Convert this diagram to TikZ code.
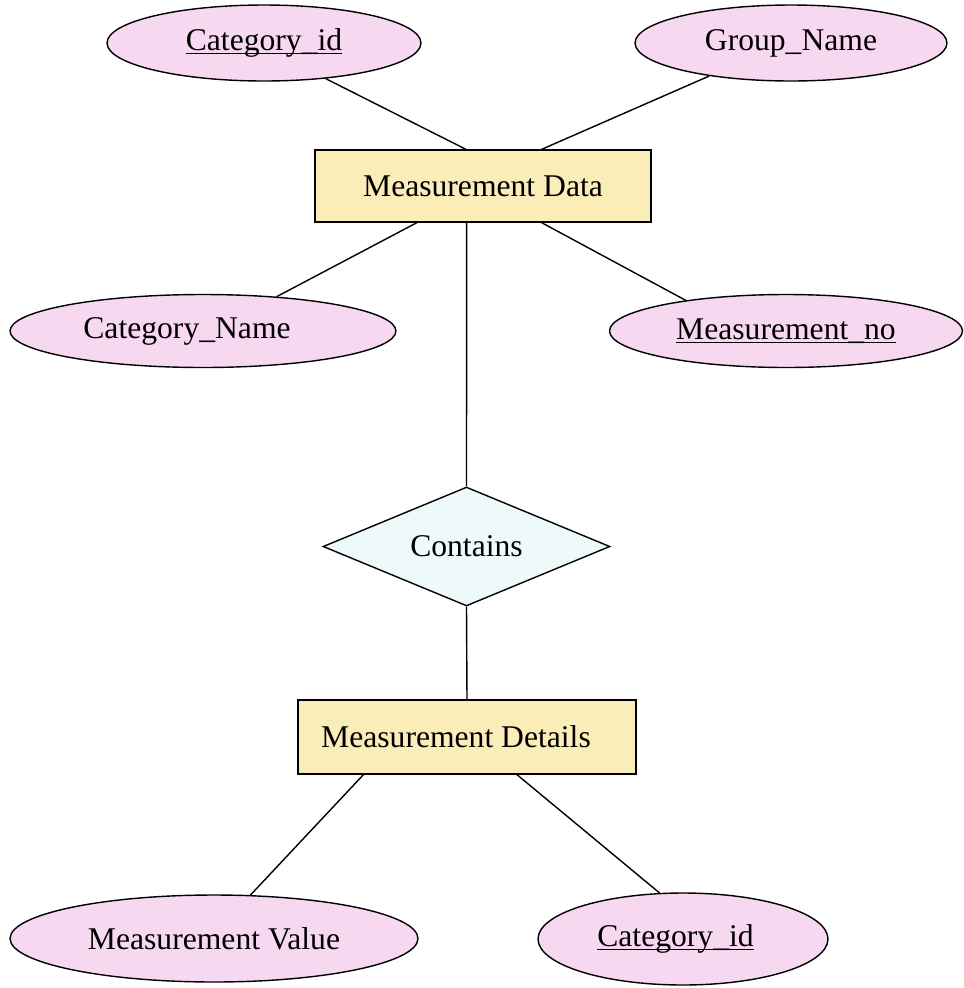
\documentclass[tikz,border=0pt]{standalone}
\usepackage{fontspec}
\setmainfont{Liberation Serif}
\usepackage{tikz}
\usepackage{xcolor}
\usetikzlibrary{positioning, shapes.geometric}
\definecolor{attrfill}{HTML}{F6D8F1}
\definecolor{entfill}{HTML}{FBEDB8}
\definecolor{relfill}{HTML}{EEF9F9}
% key attribute: underline sitting at the underscore level
\newcommand{\keyattr}[1]{\setbox0\hbox{#1}\rlap{\rule[-2pt]{\wd0}{0.7pt}}\box0}
% pushes a label off centre to the left
\newcommand{\padr}[1]{\rule{#1}{0pt}}

\begin{document}
\begin{tikzpicture}[x=0.02cm, y=-0.02cm, line width=0.8pt,
    font=\fontsize{18}{22}\selectfont,
    attr/.style={ellipse, draw, fill=attrfill, inner sep=0pt},
    entity/.style={rectangle, draw, fill=entfill, inner sep=0pt},
    relation/.style={diamond, draw, fill=relfill, inner sep=0pt, aspect=2.4}]
  \useasboundingbox (0,0) rectangle (964,988);

  % Measurement Data and its attributes
  \node[entity, minimum width=6.72cm, minimum height=1.44cm] (mdata) at (483,186) {Measurement Data};
  \node[attr, minimum width=6.28cm, minimum height=1.52cm] (catid) at (264,43) {\keyattr{Category\_id}};
  \node[attr, minimum width=6.24cm, minimum height=1.52cm] (grpname) at (791,43) {Group\_Name};
  \node[attr, minimum width=7.72cm, minimum height=1.46cm] (catname) at (203,331) {Category\_Name\padr{0.64cm}};
  \node[attr, minimum width=7.06cm, minimum height=1.46cm] (measno) at (786,331) {\keyattr{Measurement\_no}};

  % Relationship
  \node[relation, minimum width=5.74cm, minimum height=2.38cm] (contains) at (466.5,546.5) {Contains};

  % Measurement Details and its attributes
  \node[entity, minimum width=6.76cm, minimum height=1.48cm] (mdetails) at (467,737) {Measurement Details\padr{0.44cm}};
  \node[attr, minimum width=8.16cm, minimum height=1.74cm] (mvalue) at (214,938.5) {Measurement Value};
  \node[attr, minimum width=5.8cm, minimum height=1.84cm] (catid2) at (683,939) {\keyattr{Category\_id}\padr{0.3cm}};

  % Connectors
  \draw (catid.-30.7) -- (mdata.115.3);
  \draw (grpname.202.9) -- (mdata.32.3);
  \draw (mdata.209.7) -- (catname.25.3);
  \draw (mdata.-32.3) -- (measno.163.7);
  \draw (mdata.246) -- (contains.north);
  \draw (contains.south) -- (mdetails.north);
  \draw (mdetails.200.9) -- (mvalue.50.4);
  \draw (mdetails.-37.6) -- (catid2.117.6);
\end{tikzpicture}
\end{document}
